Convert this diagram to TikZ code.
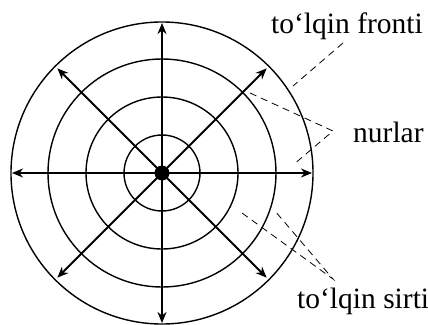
\documentclass[tikz,border=0pt]{standalone}
\usepackage{fontspec}
\setmainfont{Liberation Serif}
\usetikzlibrary{arrows.meta}
\begin{document}
\begin{tikzpicture}[x=1pt,y=-1pt,
  ring/.style={line width=1.4pt},
  ray/.style={line width=1.9pt,-{Stealth[length=11pt,width=9pt,inset=3.5pt]}},
  lead/.style={line width=0.8pt,dash pattern=on 7pt off 5pt},
  lbl/.style={font=\fontsize{29.5}{31}\selectfont,inner sep=0pt,anchor=base west}]
\useasboundingbox (0,0) rectangle (428,324);
\coordinate (c) at (162,173);
\foreach \r in {38,76,114,151}{\draw[ring] (c) circle[radius=\r];}
\foreach \a/\l in {0/150,90/150,180/150,270/150,45/148,135/148,225/148,315/148}{
  \draw[ray] (c) -- ++(\a:\l);}
\fill (c) circle[radius=7.5];
\node[lbl] (fr) at (271,33) {to‘lqin fronti};
\node[lbl] (nu) at (353,142) {nurlar};
\node[lbl] (si) at (297,308) {to‘lqin sirti};
\coordinate (f1) at (343,43);
\coordinate (f2) at (293,86);
\coordinate (n0) at (333,131);
\coordinate (n1) at (250,93);
\coordinate (n2) at (293,165);
\coordinate (s0) at (333,279);
\coordinate (s1) at (242,213);
\coordinate (s2) at (275,211);
\draw[lead] (f1) -- (f2);
\draw[lead] (n1) -- (n0) -- (n2);
\draw[lead] (s1) -- (s0) -- (s2);
\end{tikzpicture}
\end{document}
